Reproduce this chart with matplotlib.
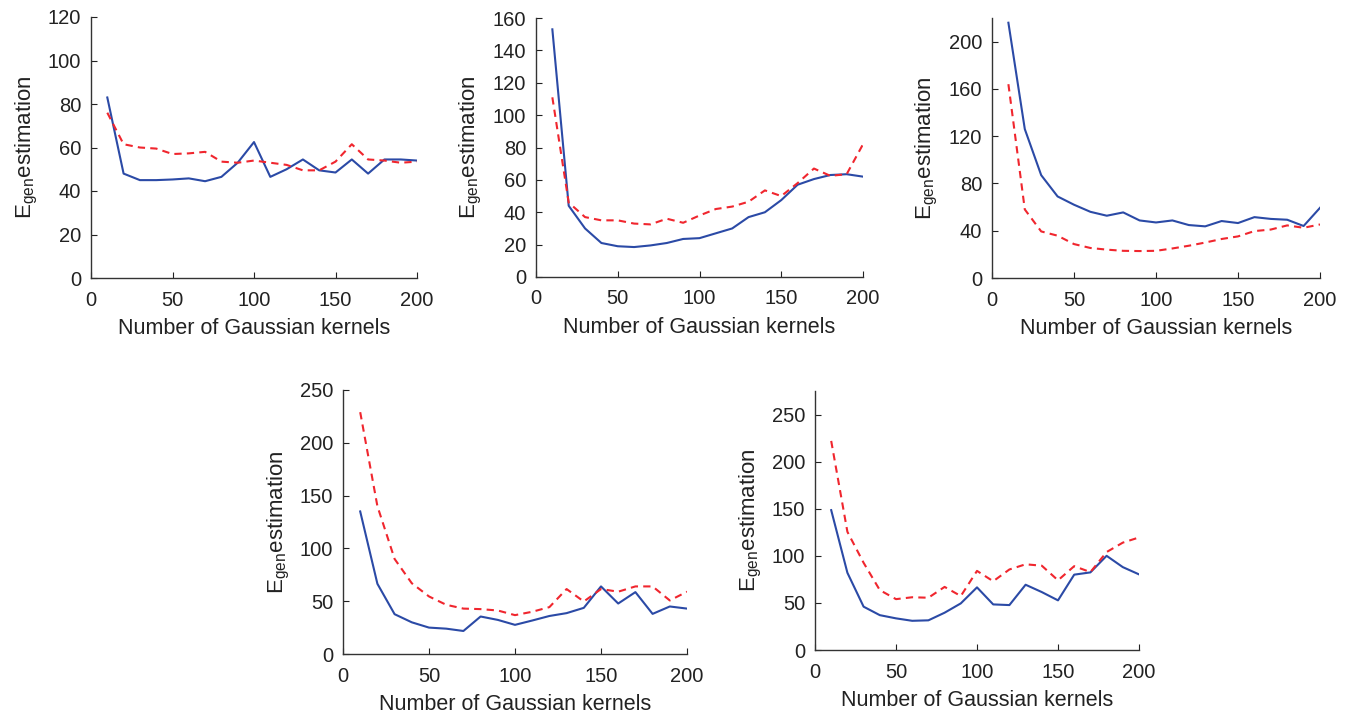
import numpy as np
import matplotlib
matplotlib.use("Agg")
import matplotlib.pyplot as plt

plt.rcParams['font.family'] = ['Liberation Sans', 'DejaVu Sans']
plt.rcParams['mathtext.fontset'] = 'custom'
plt.rcParams['mathtext.rm'] = 'Liberation Sans'

kernels = np.arange(10, 201, 10)

# panel values (blue solid / red dashed)
blue_1 = [83, 48, 45, 45, 45.3, 45.8, 44.5, 46.5, 53, 62.5,
          46.5, 50, 54.5, 49.5, 48.5, 54.5, 48, 54.5, 54.5, 54]
red_1 = [76, 61.5, 60, 59.5, 57, 57.3, 58, 53.5, 53, 54,
         53, 52, 49.5, 49.5, 53.5, 61.5, 54.5, 54, 53, 53.5]

blue_2 = [153, 44, 30, 21, 19, 18.5, 19.5, 21, 23.5, 24,
          27, 30, 37, 40, 47.5, 57, 60.5, 63, 63.5, 62]
red_2 = [111, 46, 37, 35, 35, 33, 32.5, 36, 33.5, 38,
         42, 43.5, 46.5, 53.5, 50, 58, 67, 62.5, 63.5, 82]

blue_3 = [216, 126, 87, 69, 62, 56, 52.7, 55.5, 48.7, 47,
          48.7, 44.8, 43.7, 48.2, 46.5, 51.5, 50, 49.3, 44, 59.4]
red_3 = [164, 58, 39.4, 35.8, 28.7, 25.4, 24, 23, 22.8, 23,
         25, 27.3, 30, 33, 35.2, 39.7, 41, 44.5, 42.5, 45.3]

blue_4 = [135, 66.5, 37.7, 30, 25, 24, 21.8, 35.5, 32.3, 27.6,
          31.7, 36, 38.7, 43.7, 64, 47.8, 58.6, 38, 45, 43]
red_4 = [229, 140, 90, 67, 54.5, 46.6, 43, 42.5, 41.2, 36.8,
         40, 44.4, 61.5, 49.7, 61.5, 59, 64, 64, 50.7, 59]

blue_5 = [148.5, 82, 46, 37, 33.6, 31, 31.5, 39.6, 49.5, 66.5,
          48.4, 47.7, 69.3, 61.5, 52.7, 80, 82.4, 100, 88, 80.3]
red_5 = [222, 125.5, 92.6, 63.6, 54, 56, 55.5, 67, 57.3, 84,
         73, 85.5, 91, 89.5, 74, 89, 82.7, 104, 114, 119.5]

panels = [
    (blue_1, red_1, 120, np.arange(0, 121, 20), (91, 417, 17, 278)),
    (blue_2, red_2, 160, np.arange(0, 161, 20), (536, 863, 18, 277)),
    (blue_3, red_3, 220, np.arange(0, 201, 40), (992, 1320, 18, 278)),
    (blue_4, red_4, 250, np.arange(0, 251, 50), (343, 687, 390, 654)),
    (blue_5, red_5, 275, np.arange(0, 251, 50), (815, 1139, 391, 650)),
]

W, H = 1351, 715
fig = plt.figure(figsize=(W / 100, H / 100), dpi=100)

for blue, red, ytop, yticks, (l, r, t, b) in panels:
    ax = fig.add_axes([l / W, (H - b) / H, (r - l) / W, (b - t) / H])
    ax.plot(kernels, blue, color='#2b4aa6', lw=1.5)
    ax.plot(kernels, red, color='#f0262e', lw=1.5, ls=(0, (3.5, 2.5)))
    ax.set_xlim(0, 200)
    ax.set_ylim(0, ytop)
    ax.set_xticks([0, 50, 100, 150, 200])
    ax.set_yticks(yticks)
    ax.spines['top'].set_visible(False)
    ax.spines['right'].set_visible(False)
    for s in ('left', 'bottom'):
        ax.spines[s].set_color('#333333')
        ax.spines[s].set_linewidth(1.0)
    ax.tick_params(direction='in', length=4, labelsize=14.5, colors='#222222', pad=7)
    ax.tick_params(axis='x', pad=9)
    ax.set_xlabel('Number of Gaussian kernels', fontsize=15.5, color='#222222', labelpad=6)
    ax.set_ylabel(r'E$_{\rm gen}$estimation', fontsize=16, color='#222222', labelpad=6)

fig.savefig('out.png', dpi=100)
